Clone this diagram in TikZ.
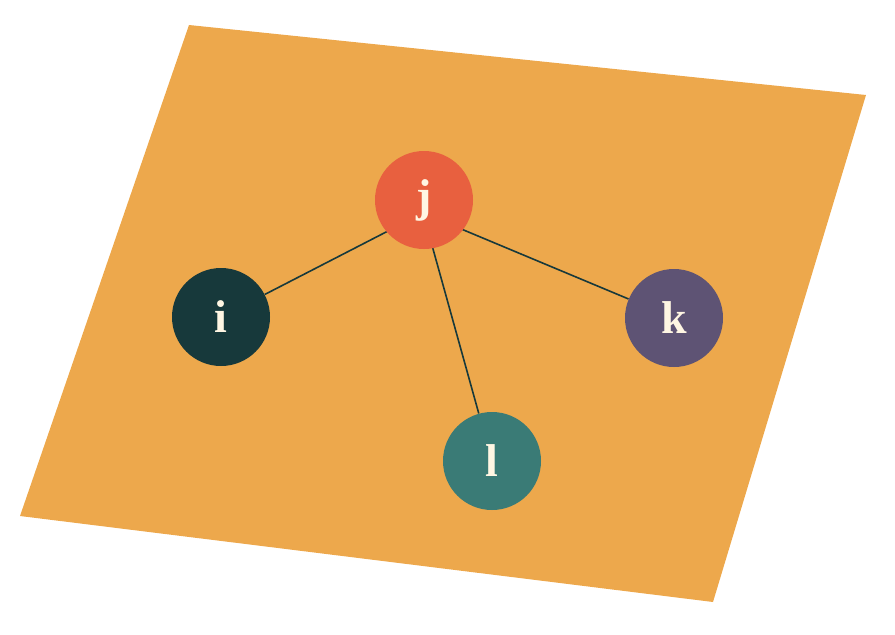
\documentclass[tikz,border=0pt]{standalone}
\usepackage{fontspec}
\setmainfont{Liberation Serif}
\usepackage{tikz}
\usetikzlibrary{backgrounds}
\definecolor{plane}{HTML}{EDA84C}
\definecolor{cj}{HTML}{E8603F}
\definecolor{ci}{HTML}{17393B}
\definecolor{ck}{HTML}{5E5374}
\definecolor{cl}{HTML}{3A7B76}
\definecolor{cream}{HTML}{FFF6E3}
\tikzstyle{vx}=[shape=circle,
                minimum size=98pt,
                inner sep=0pt,
                text=cream,
                font=\bfseries\fontsize{46}{50}\selectfont]

\begin{document}
\begin{tikzpicture}[x=1pt,y=-1pt,semithick]
\useasboundingbox (0,0) rectangle (895,635);

% vertices
\node[vx,fill=cj] (j) at (424,200) {j};
\node[vx,fill=ci] (i) at (221,317) {i};
\node[vx,fill=ck] (k) at (674,318) {k};
\node[vx,fill=cl] (l) at (492,461) {l};
\coordinate (jc) at (423,213);

\begin{scope}[on background layer]
% plane
\fill[plane] (189,25) -- (866,95) -- (713,602) -- (20,516) -- cycle;
% links
\path[draw=ci,line width=1.6pt] (jc) edge (i)
          (jc) edge (k)
          (jc) edge (l);
\end{scope}

\end{tikzpicture}
\end{document}
